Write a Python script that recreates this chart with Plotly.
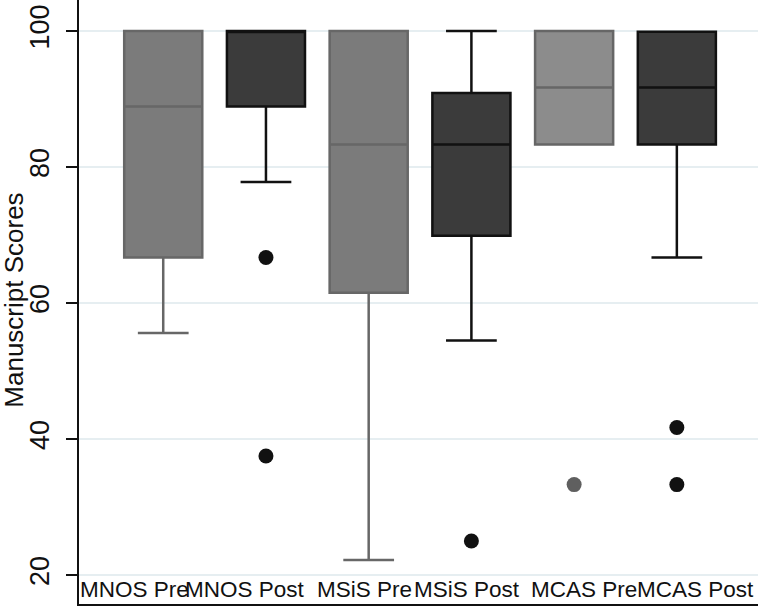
import plotly.graph_objects as go

# manuscript scores summary per group
groups = ["MNOS Pre", "MNOS Post", "MSiS Pre", "MSiS Post", "MCAS Pre", "MCAS Post"]
q1 = [66.7, 88.9, 61.5, 69.9, 83.3, 83.3]
median = [88.9, 100, 83.3, 83.3, 91.7, 91.7]
q3 = [100, 100, 100, 90.9, 100, 99.9]
lower_whisker = [55.6, 77.8, 22.2, 54.5, 83.3, 66.7]
upper_whisker = [100, 100, 100, 100, 100, 99.9]
outliers = [[], [66.7, 37.5], [], [25.0], [33.3], [41.7, 33.3]]

fills = ["#7b7b7b", "#3b3b3b", "#7b7b7b", "#3b3b3b", "#8c8c8c", "#3b3b3b"]
edges = ["#676767", "#111111", "#676767", "#111111", "#666666", "#111111"]
dot_colors = ["#111111", "#111111", "#111111", "#111111", "#5f5f5f", "#111111"]

# where the group labels sit along the x axis (they are not centred on the boxes)
label_pos = [0.72, 1.80, 2.955, 3.957, 5.095, 6.185]

fig = go.Figure()

for i, name in enumerate(groups):
    pos = i + 1
    fig.add_trace(go.Box(
        x=[pos],
        q1=[q1[i]], median=[median[i]], q3=[q3[i]],
        lowerfence=[lower_whisker[i]], upperfence=[upper_whisker[i]],
        width=0.76,
        whiskerwidth=0.65,
        fillcolor=fills[i],
        line=dict(color=edges[i], width=2.5),
        boxpoints=False,
        name=name,
        showlegend=False,
        hoverinfo="y",
    ))
    if outliers[i]:
        fig.add_trace(go.Scatter(
            x=[pos] * len(outliers[i]),
            y=outliers[i],
            mode="markers",
            marker=dict(color=dot_colors[i], size=15),
            showlegend=False,
        ))

for name, xp in zip(groups, label_pos):
    fig.add_annotation(
        x=xp, y=17.9, xref="x", yref="y",
        text=name, showarrow=False,
        font=dict(size=22.5, color="#111111"),
        xanchor="center", yanchor="middle",
    )

fig.add_annotation(
    x=-0.095, y=0.503, xref="paper", yref="paper",
    text="Manuscript Scores", showarrow=False, textangle=-90,
    font=dict(size=26, color="#111111"),
    xanchor="center", yanchor="middle",
)

fig.update_layout(
    width=762, height=609,
    margin=dict(l=79, r=4, t=0, b=5),
    paper_bgcolor="white",
    plot_bgcolor="white",
    font=dict(family="Liberation Sans, Arial, sans-serif", color="#111111"),
    xaxis=dict(
        range=[0.18, 6.79],
        showticklabels=False,
        ticks="",
        showgrid=False,
        zeroline=False,
        showline=True, linecolor="#111111", linewidth=2,
    ),
    yaxis=dict(
        range=[15.74, 104.56],
        tickvals=[20, 40, 60, 80, 100],
        tickangle=-90,
        ticks="outside", ticklen=11, tickwidth=2, tickcolor="#111111",
        tickfont=dict(size=27),
        ticklabelstandoff=6,
        showgrid=True, gridcolor="#e6eef1", gridwidth=2,
        zeroline=False,
        showline=True, linecolor="#111111", linewidth=2,
    ),
)

fig.write_html("out.html", config={"displayModeBar": False},
               post_script="document.body.style.margin='0';")
